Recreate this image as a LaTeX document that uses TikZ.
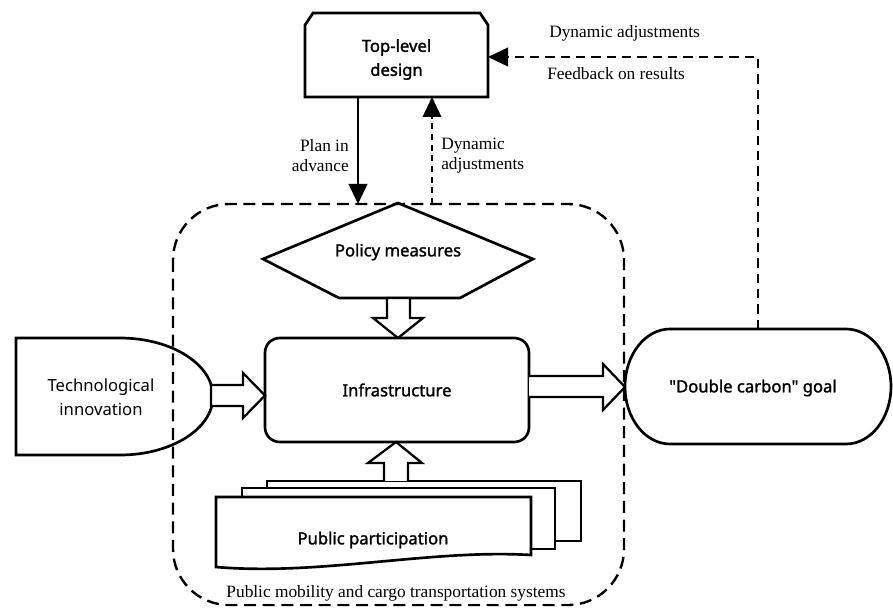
\documentclass[tikz,border=0pt]{standalone}
\usepackage{fontspec}
\setmainfont{Liberation Serif}
\newfontfamily\labfont[AutoFakeBold=1.6]{Noto Sans}
\usetikzlibrary{arrows.meta}
\begin{document}
\begin{tikzpicture}[x=0.75pt,y=-0.75pt,
  shp/.style={draw=black,line width=2pt,line join=miter,fill=white},
  sanslab/.style={font=\labfont\fontsize{12.5}{18}\selectfont,align=center,inner sep=0pt},
  sanslabb/.style={font=\labfont\bfseries\fontsize{12.5}{18}\selectfont,align=center,inner sep=0pt},
  serlab/.style={font=\fontsize{13}{15}\selectfont,inner sep=0pt},
  tri/.style={-{Triangle[length=15pt,width=14pt]}},
  blockarrow/.style={draw=black,line width=1.7pt,fill=white,line join=miter}]

\useasboundingbox (0,0) rectangle (893,609);

% top-level design
\draw[shp] (305,97) -- (305,25) -- (313,13) -- (480,13) -- (488,25) -- (488,97) -- cycle;
\node[sanslabb] (top) at (396.5,59.5) {Top-level\\design};

% connectors to/from top
\coordinate (topP) at (358,97);
\coordinate (regP) at (358,204);
\coordinate (topD) at (432,97);
\coordinate (regD) at (432,204);
\coordinate (topR) at (488,57);
\coordinate (fbc) at (758,57);
\coordinate (goalT) at (758,329);

\draw[line width=1.3pt,tri] (topP) -- (regP);
\draw[line width=1.1pt,dash pattern=on 4.5pt off 3.5pt,tri] (regD) -- (topD);
\draw[line width=1.2pt,dash pattern=on 7pt off 4.5pt,tri] (goalT) -- (fbc) -- (topR);

\node[serlab,anchor=east,align=right] (planlab) at (349,156) {Plan in\\advance};
\node[serlab,anchor=west,align=left] (dynlabA) at (441,156) {Dynamic\\adjustments};
\node[serlab,anchor=west] (dynlabB) at (549,33) {Dynamic adjustments};
\node[serlab,anchor=west] (fblab) at (547,74) {Feedback on results};

% policy measures
\draw[shp] (398,203) -- (533,259) -- (460,298) -- (339,298) -- (263,259) -- cycle;
\node[sanslabb] (policy) at (398,252) {Policy measures};
\draw[blockarrow] (387,298) -- (387,318) -- (373,318) -- (398,338) -- (423,318) -- (410,318) -- (410,298) -- cycle;

% infrastructure
\draw[shp,rounded corners=11pt] (265,338) rectangle (529,442);
\node[sanslabb] (infra) at (397,390) {Infrastructure};

% technological innovation
\draw[shp] (16,338) -- (120,338) arc[start angle=-90,end angle=90,x radius=93,y radius=58.5] -- (16,455) -- cycle;
\node[sanslab] (tech) at (101,397) {Technological\\innovation};
\draw[blockarrow] (211,385) -- (243,385) -- (243,373) -- (265,395.5) -- (243,418) -- (243,406) -- (211,406) -- cycle;

% goal
\draw[blockarrow] (529,376) -- (603,376) -- (603,364) -- (625,387) -- (603,410) -- (603,397) -- (529,397);
\draw[shp] (670,329) -- (846,329) arc[start angle=-90,end angle=90,x radius=45,y radius=57.5] -- (670,444) arc[start angle=90,end angle=270,x radius=45,y radius=57.5] -- cycle;
\node[sanslabb] (goal) at (753,388) {"Double carbon" goal};

% public participation
\draw[shp] (267,481) rectangle (581,541);
\draw[shp] (242,488) rectangle (555,549);
\draw[shp] (216,497) -- (531,497) -- (531,555) .. controls (430,549) and (320,576) .. (216,567) -- cycle;
\node[sanslabb] (public) at (373,540) {Public participation};
\draw[blockarrow] (384,481) -- (384,463) -- (368,463) -- (396,442) -- (422,463) -- (408,463) -- (408,481);

% system region
\draw[line width=1.8pt,dash pattern=on 9pt off 5pt,rounded corners=42pt] (173,204) rectangle (624,605);
\node[serlab,fill=white,fill opacity=0.65,text opacity=1,inner xsep=3pt,inner ysep=2pt] (sys) at (396,593) {Public mobility and cargo transportation systems};
\end{tikzpicture}
\end{document}
